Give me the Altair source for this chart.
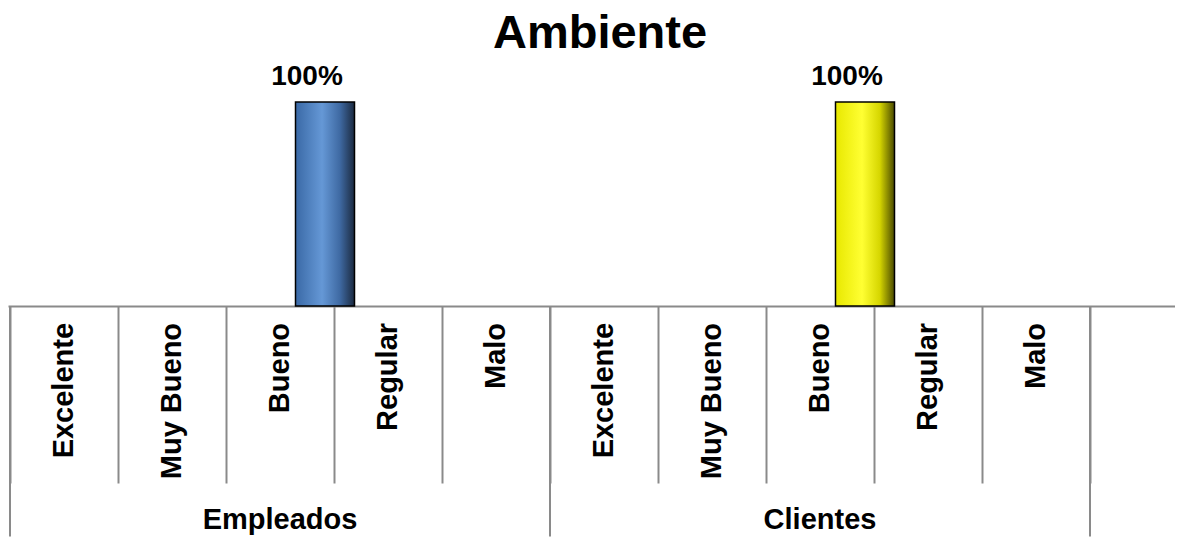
import altair as alt
import pandas as pd

# ---- data ----
groups = ["Empleados", "Clientes"]
categories = ["Excelente", "Muy Bueno", "Bueno", "Regular", "Malo"]
empleados_values = [0, 0, 100, 0, 0]
clientes_values = [0, 0, 100, 0, 0]
title_text = "Ambiente"

values_by_group = {"Empleados": empleados_values, "Clientes": clientes_values}

rows = []
for gi, g in enumerate(groups):
    for ci, c in enumerate(categories):
        rows.append({"group": g, "category": c, "slot": gi * len(categories) + ci,
                     "value": values_by_group[g][ci]})
df = pd.DataFrame(rows)
df["center"] = df["slot"] + 0.5
df["bar_c"] = df["center"] + 45 / 108
df["bar_l"] = df["bar_c"] - 29.5 / 108
df["bar_r"] = df["bar_c"] + 29.5 / 108
df["label"] = df["value"].map(lambda v: f"{v:.0f}%")

n_slots = len(groups) * len(categories) + 1
gdf = pd.DataFrame({"group": groups,
                    "center": [i * len(categories) + len(categories) / 2 for i in range(len(groups))]})
bdf = pd.DataFrame({"edge": [i * len(categories) for i in range(len(groups) + 1)]})
tdf = pd.DataFrame({"title": [title_text]})

# ---- layout ----
W, H, PAD_TOP, PAD_BOTTOM = 1167, 462, 60, 8
PX_SLOT = 108.0
x0_px = 2.0
xscale = alt.Scale(domain=[-x0_px / PX_SLOT, (W - x0_px) / PX_SLOT], nice=False, zero=False)
ppu = 2.04
zero_px = 238.0
yscale = alt.Scale(domain=[-(H - zero_px) / ppu, zero_px / ppu], nice=False, zero=False)

GRAY = "#8a8a8a"
FONT = "Liberation Sans"

xaxis = alt.Axis(orient="bottom", offset=-(H - zero_px), values=list(range(n_slots)),
                 labels=False, title=None, grid=False, tickSize=177, tickColor=GRAY,
                 tickWidth=2, domainColor=GRAY, domainWidth=2)

base = alt.Chart(df)

blue = alt.Gradient(gradient="linear", x1=0, x2=1, y1=0, y2=0, stops=[
    alt.GradientStop(offset=0, color="#3a69a6"),
    alt.GradientStop(offset=0.45, color="#6598d6"),
    alt.GradientStop(offset=0.75, color="#3f6aa3"),
    alt.GradientStop(offset=1, color="#1b2a40"),
])
yellow = alt.Gradient(gradient="linear", x1=0, x2=1, y1=0, y2=0, stops=[
    alt.GradientStop(offset=0, color="#e8e800"),
    alt.GradientStop(offset=0.45, color="#ffff33"),
    alt.GradientStop(offset=0.75, color="#d6d600"),
    alt.GradientStop(offset=1, color="#4a4a00"),
])

def bars(group, grad):
    return base.transform_filter(
        (alt.datum.group == group) & (alt.datum.value > 0)
    ).mark_rect(color=grad, stroke="black", strokeWidth=1.5).encode(
        x=alt.X("bar_l:Q", scale=xscale, axis=xaxis),
        x2="bar_r:Q",
        y=alt.Y("value:Q", scale=yscale, axis=None),
        y2=alt.datum(0),
    )

bars_emp = bars("Empleados", blue)
bars_cli = bars("Clientes", yellow)

value_labels = base.transform_filter(alt.datum.value > 0).mark_text(
    font=FONT, fontSize=28, fontWeight="bold", color="black",
    baseline="alphabetic", align="center", dx=-18, dy=-17
).encode(
    x=alt.X("bar_c:Q", scale=xscale, axis=xaxis),
    y=alt.Y("value:Q", scale=yscale, axis=None),
    text="label:N",
)

cat_labels = base.mark_text(
    font=FONT, fontSize=29, fontWeight="bold", color="black",
    angle=270, align="right", baseline="middle"
).encode(
    x=alt.X("center:Q", scale=xscale, axis=xaxis),
    y=alt.Y(datum=-8.3, scale=yscale, axis=None),
    text="category:N",
)

group_labels = alt.Chart(gdf).mark_text(
    font=FONT, fontSize=29, fontWeight="bold", color="black",
    baseline="alphabetic", align="center"
).encode(
    x=alt.X("center:Q", scale=xscale, axis=xaxis),
    y=alt.Y(datum=-109.3, scale=yscale, axis=None),
    text="group:N",
)

title_mark = alt.Chart(tdf).mark_text(
    font=FONT, fontSize=47, fontWeight="bold", color="black",
    baseline="alphabetic", align="center"
).encode(
    x=alt.X(datum=(600 - 10) / PX_SLOT, scale=xscale, axis=xaxis),
    y=alt.Y(datum=(306 - 48) / ppu, scale=yscale, axis=None),
    text="title:N",
)

group_seps = alt.Chart(bdf).mark_rule(color=GRAY, strokeWidth=2, clip=False).encode(
    x=alt.X("edge:Q", scale=xscale, axis=xaxis),
    y=alt.Y(datum=0, scale=yscale, axis=None),
    y2=alt.datum(-113),
)

chart = alt.layer(
    group_seps, bars_emp, bars_cli, value_labels, cat_labels, group_labels, title_mark
).properties(
    width=W, height=H,
    autosize=alt.AutoSizeParams(type="none"),
    padding={"left": 0, "top": PAD_TOP, "right": 0, "bottom": PAD_BOTTOM},
    view=alt.ViewBackground(stroke="transparent", strokeOpacity=0, strokeWidth=0),
).configure_view(stroke="transparent", strokeOpacity=0, strokeWidth=0).configure(background="white")

chart.save("out.html", embed_options={"renderer": "svg", "actions": False})
